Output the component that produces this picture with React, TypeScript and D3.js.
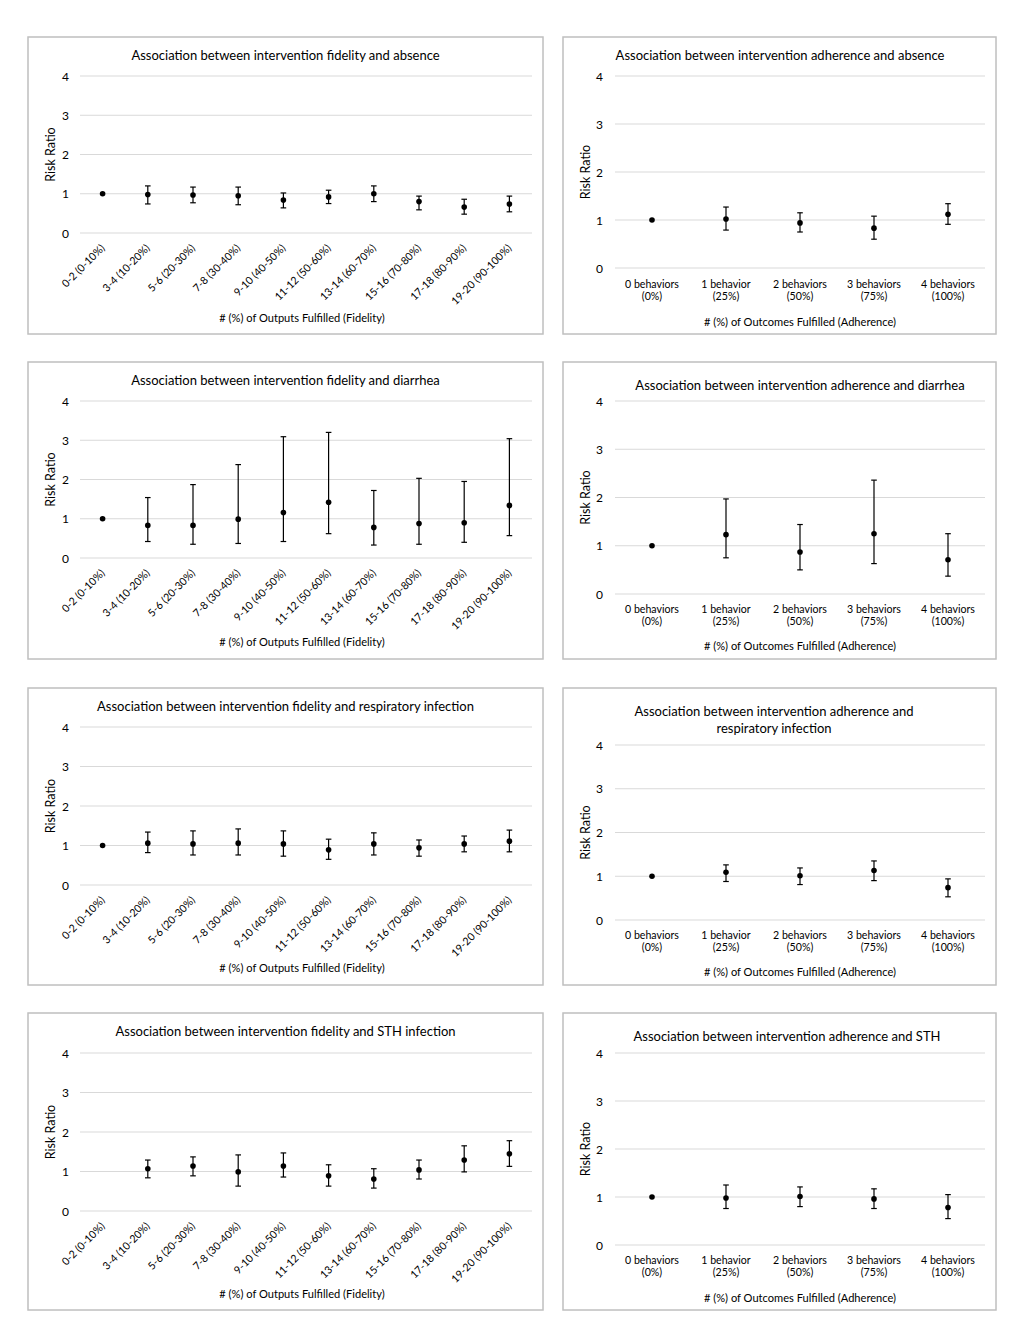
import React from 'react';
import * as d3 from 'd3';

// categories
const fidelityCategories = [
  '0-2 (0-10%)', '3-4 (10-20%)', '5-6 (20-30%)', '7-8 (30-40%)', '9-10 (40-50%)',
  '11-12 (50-60%)', '13-14 (60-70%)', '15-16 (70-80%)', '17-18 (80-90%)', '19-20 (90-100%)',
];
const adherenceCategories = ['0 behaviors', '1 behavior', '2 behaviors', '3 behaviors', '4 behaviors'];
const adherencePercents = ['(0%)', '(25%)', '(50%)', '(75%)', '(100%)'];
const yTicks = [0, 1, 2, 3, 4];

// absence
const absenceFidelityRR = [1.0, 0.98, 0.97, 0.95, 0.84, 0.92, 1.0, 0.8, 0.66, 0.74];
const absenceFidelityLow = [null, 0.74, 0.77, 0.72, 0.64, 0.75, 0.8, 0.59, 0.48, 0.54];
const absenceFidelityHigh = [null, 1.2, 1.17, 1.17, 1.02, 1.09, 1.2, 0.94, 0.86, 0.94];
const absenceAdherenceRR = [1.0, 1.02, 0.94, 0.83, 1.12];
const absenceAdherenceLow = [null, 0.79, 0.75, 0.6, 0.91];
const absenceAdherenceHigh = [null, 1.27, 1.15, 1.08, 1.34];

// diarrhea
const diarrheaFidelityRR = [1.0, 0.83, 0.83, 0.99, 1.16, 1.42, 0.78, 0.88, 0.9, 1.34];
const diarrheaFidelityLow = [null, 0.42, 0.35, 0.37, 0.42, 0.62, 0.33, 0.35, 0.4, 0.57];
const diarrheaFidelityHigh = [null, 1.54, 1.87, 2.38, 3.09, 3.2, 1.72, 2.03, 1.95, 3.04];
const diarrheaAdherenceRR = [1.0, 1.23, 0.87, 1.25, 0.71];
const diarrheaAdherenceLow = [null, 0.75, 0.5, 0.63, 0.37];
const diarrheaAdherenceHigh = [null, 1.97, 1.44, 2.36, 1.25];

// respiratory infection
const respFidelityRR = [1.0, 1.06, 1.04, 1.06, 1.04, 0.89, 1.04, 0.94, 1.04, 1.11];
const respFidelityLow = [null, 0.82, 0.76, 0.76, 0.73, 0.65, 0.76, 0.73, 0.84, 0.84];
const respFidelityHigh = [null, 1.34, 1.37, 1.42, 1.37, 1.16, 1.32, 1.14, 1.24, 1.39];
const respAdherenceRR = [1.0, 1.09, 1.01, 1.13, 0.74];
const respAdherenceLow = [null, 0.88, 0.81, 0.9, 0.53];
const respAdherenceHigh = [null, 1.26, 1.19, 1.35, 0.94];

// STH
const sthFidelityRR = [null, 1.07, 1.14, 0.99, 1.14, 0.89, 0.81, 1.04, 1.29, 1.45];
const sthFidelityLow = [null, 0.84, 0.89, 0.63, 0.86, 0.63, 0.58, 0.81, 0.99, 1.13];
const sthFidelityHigh = [null, 1.29, 1.37, 1.42, 1.47, 1.17, 1.07, 1.29, 1.65, 1.78];
const sthAdherenceRR = [1.0, 0.98, 1.01, 0.96, 0.78];
const sthAdherenceLow = [null, 0.76, 0.8, 0.76, 0.55];
const sthAdherenceHigh = [null, 1.25, 1.21, 1.17, 1.05];

type Num = number | null;

interface Panel {
  kind: 'fidelity' | 'adherence';
  title: string[];
  rr: Num[];
  low: Num[];
  high: Num[];
  box: [number, number, number, number];
  plot: [number, number, number, number]; // x0, x1, top, bottom
  titleX: number;
  titleY: number;
  labelY: number;
  axisTitleY: number;
}

const LEFT_BOX: [number, number] = [28, 515];
const RIGHT_BOX: [number, number] = [563, 433];

const panels: Panel[] = [
  {
    kind: 'fidelity', title: ['Association between intervention fidelity and absence'],
    rr: absenceFidelityRR, low: absenceFidelityLow, high: absenceFidelityHigh,
    box: [LEFT_BOX[0], 37, LEFT_BOX[1], 297], plot: [80, 532, 76, 233],
    titleX: 285.5, titleY: 55, labelY: 246, axisTitleY: 317,
  },
  {
    kind: 'adherence', title: ['Association between intervention adherence and absence'],
    rr: absenceAdherenceRR, low: absenceAdherenceLow, high: absenceAdherenceHigh,
    box: [RIGHT_BOX[0], 37, RIGHT_BOX[1], 297], plot: [615, 985, 76, 268],
    titleX: 780, titleY: 55, labelY: 284, axisTitleY: 321,
  },
  {
    kind: 'fidelity', title: ['Association between intervention fidelity and diarrhea'],
    rr: diarrheaFidelityRR, low: diarrheaFidelityLow, high: diarrheaFidelityHigh,
    box: [LEFT_BOX[0], 362, LEFT_BOX[1], 297], plot: [80, 532, 401, 558],
    titleX: 285.5, titleY: 380, labelY: 571, axisTitleY: 641,
  },
  {
    kind: 'adherence', title: ['Association between intervention adherence and diarrhea'],
    rr: diarrheaAdherenceRR, low: diarrheaAdherenceLow, high: diarrheaAdherenceHigh,
    box: [RIGHT_BOX[0], 362, RIGHT_BOX[1], 297], plot: [615, 985, 401, 594],
    titleX: 800, titleY: 385, labelY: 609, axisTitleY: 645,
  },
  {
    kind: 'fidelity', title: ['Association between intervention fidelity and respiratory infection'],
    rr: respFidelityRR, low: respFidelityLow, high: respFidelityHigh,
    box: [LEFT_BOX[0], 688, LEFT_BOX[1], 297], plot: [80, 532, 727, 885],
    titleX: 285.5, titleY: 706, labelY: 898, axisTitleY: 967,
  },
  {
    kind: 'adherence', title: ['Association between intervention adherence and', 'respiratory infection'],
    rr: respAdherenceRR, low: respAdherenceLow, high: respAdherenceHigh,
    box: [RIGHT_BOX[0], 688, RIGHT_BOX[1], 297], plot: [615, 985, 745, 920],
    titleX: 774, titleY: 711, labelY: 935, axisTitleY: 971,
  },
  {
    kind: 'fidelity', title: ['Association between intervention fidelity and STH infection'],
    rr: sthFidelityRR, low: sthFidelityLow, high: sthFidelityHigh,
    box: [LEFT_BOX[0], 1013, LEFT_BOX[1], 297], plot: [80, 532, 1053, 1211],
    titleX: 285.5, titleY: 1031, labelY: 1224, axisTitleY: 1293,
  },
  {
    kind: 'adherence', title: ['Association between intervention adherence and STH'],
    rr: sthAdherenceRR, low: sthAdherenceLow, high: sthAdherenceHigh,
    box: [RIGHT_BOX[0], 1013, RIGHT_BOX[1], 297], plot: [615, 985, 1053, 1245],
    titleX: 787, titleY: 1036, labelY: 1260, axisTitleY: 1297,
  },
];

const FONT = 'Lato, "Open Sans", sans-serif';

const ChartPanel: React.FC<{ p: Panel }> = ({ p }) => {
  const cats = p.kind === 'fidelity' ? fidelityCategories : adherenceCategories;
  const [x0, x1, top, bottom] = p.plot;
  const x = d3.scaleBand<string>().domain(cats).range([x0, x1]);
  const y = d3.scaleLinear().domain([0, 4]).range([bottom, top]);
  const cx = (c: string) => (x(c) ?? 0) + x.bandwidth() / 2;
  const [bx, by, bw, bh] = p.box;
  const yTitleX = p.kind === 'fidelity' ? 50 : 585;
  const tickX = p.kind === 'fidelity' ? 69 : 603;
  const axisTitle = p.kind === 'fidelity'
    ? '# (%) of Outputs Fulfilled (Fidelity)'
    : '# (%) of Outcomes Fulfilled (Adherence)';
  const axisTitleX = p.kind === 'fidelity' ? 302 : 800;

  return (
    <g>
      <rect x={bx} y={by} width={bw} height={bh} fill="#fff" stroke="#bfbfbf" strokeWidth={1.5} />
      {p.title.map((t, i) => (
        <text key={i} x={p.titleX} y={p.titleY + i * 16.5} textAnchor="middle" dominantBaseline="central"
          fontSize={13} fill="#000">{t}</text>
      ))}
      {yTicks.map((t) => (
        <g key={t}>
          <line x1={x0} x2={x1} y1={y(t)} y2={y(t)} stroke="#d9d9d9" strokeWidth={1} />
          <text x={tickX} y={y(t)} textAnchor="end" dominantBaseline="central" fontSize={12} fill="#000">{t}</text>
        </g>
      ))}
      <text transform={`translate(${yTitleX},${(top + bottom) / 2}) rotate(-90)`} textAnchor="middle"
        dominantBaseline="central" fontSize={12.5} fill="#000">Risk Ratio</text>
      {cats.map((c, i) => (
        <g key={c}>
          {p.low[i] != null && p.high[i] != null && (
            <g stroke="#000" strokeWidth={1.2}>
              <line x1={cx(c)} x2={cx(c)} y1={y(p.low[i] as number)} y2={y(p.high[i] as number)} />
              <line x1={cx(c) - 2.8} x2={cx(c) + 2.8} y1={y(p.low[i] as number)} y2={y(p.low[i] as number)} />
              <line x1={cx(c) - 2.8} x2={cx(c) + 2.8} y1={y(p.high[i] as number)} y2={y(p.high[i] as number)} />
            </g>
          )}
          {p.rr[i] != null && <circle cx={cx(c)} cy={y(p.rr[i] as number)} r={2.8} fill="#000" />}
          {p.kind === 'fidelity' ? (
            <text transform={`translate(${cx(c)},${p.labelY}) rotate(-45)`} textAnchor="end"
              dominantBaseline="central" fontSize={10.6} fill="#000">{c}</text>
          ) : (
            <text x={cx(c)} y={p.labelY} textAnchor="middle" dominantBaseline="central" fontSize={10.6} fill="#000">
              <tspan x={cx(c)} dy={0}>{c}</tspan>
              <tspan x={cx(c)} dy={12}>{adherencePercents[i]}</tspan>
            </text>
          )}
        </g>
      ))}
      <text x={axisTitleX} y={p.axisTitleY} textAnchor="middle" dominantBaseline="central" fontSize={11.1} fill="#000">
        {axisTitle}
      </text>
    </g>
  );
};

const App: React.FC = () => (
  <svg width={1024} height={1326} style={{ position: 'absolute', left: 0, top: 0, fontFamily: FONT }}>
    <rect x={0} y={0} width={1024} height={1326} fill="#fff" />
    {panels.map((p, i) => <ChartPanel key={i} p={p} />)}
  </svg>
);

export default App;
